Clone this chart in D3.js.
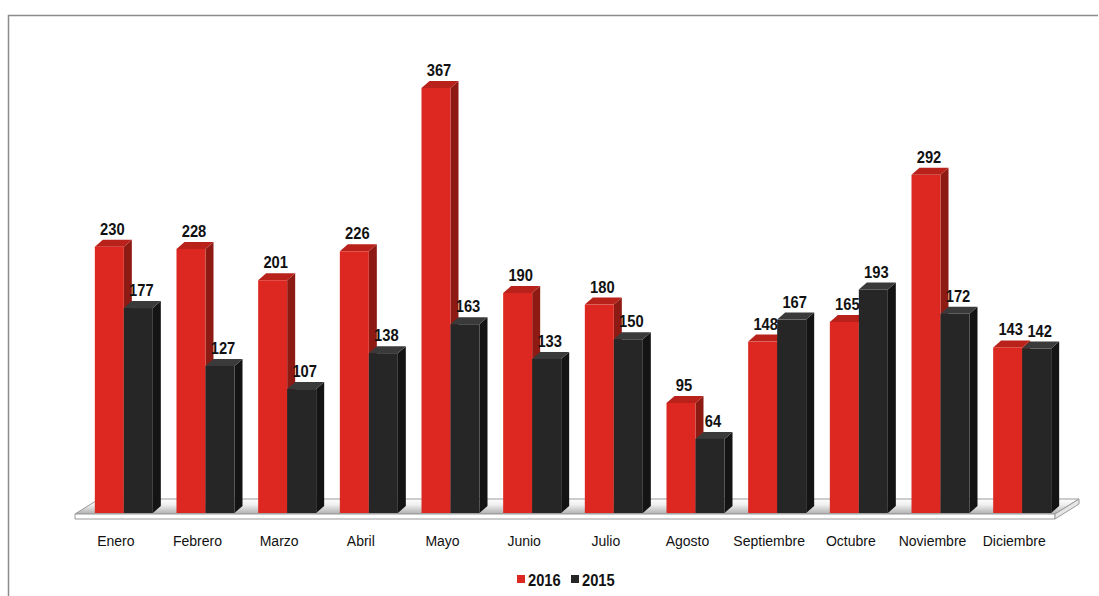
<html>
    <head>
        <title>Meses 2016 vs 2015</title>
        <style>
            body { margin: 0; background: #fff; }
            text { font-family: "Liberation Sans", Arial, sans-serif; }
        </style>
    </head>
    <body>
        <div id="graph"></div>

        <script src="https://cdn.jsdelivr.net/npm/d3@7"></script>
        <script>
            // values
            var months = ["Enero", "Febrero", "Marzo", "Abril", "Mayo", "Junio", "Julio",
                          "Agosto", "Septiembre", "Octubre", "Noviembre", "Diciembre"];
            var values2016 = [230, 228, 201, 226, 367, 190, 180, 95, 148, 165, 292, 143];
            var values2015 = [177, 127, 107, 138, 163, 133, 150, 64, 167, 193, 172, 142];
            var seriesNames = ["2016", "2015"];

            var W = 1099, H = 596;
            var baseY = 513;
            var depthX = 8, depthY = 7;   // little 3d offset of the bars
            var barW = 29;
            var narrow = 0.92;            // squeeze for the bold number labels

            var colors = [
                { front: "#dc2820", side: "#8e1a14", top: "#b8221b" },
                { front: "#262626", side: "#141414", top: "#3a3a3a" }
            ];

            var svg = d3.select("#graph").append("svg")
                .attr("width", W)
                .attr("height", H);

            var defs = svg.append("defs");
            var floorGrad = defs.append("linearGradient")
                .attr("id", "floorGrad")
                .attr("x1", 0).attr("y1", 0).attr("x2", 0).attr("y2", 1);
            floorGrad.append("stop").attr("offset", "0%").attr("stop-color", "#ffffff");
            floorGrad.append("stop").attr("offset", "40%").attr("stop-color", "#eeeeee");
            floorGrad.append("stop").attr("offset", "100%").attr("stop-color", "#b0b0b0");

            // frame (only top and left edges show in the picture)
            svg.append("path")
                .attr("d", "M8.5," + H + " L8.5,15.5 L" + (W - 1) + ",15.5")
                .attr("fill", "none")
                .attr("stroke", "#8c8c8c")
                .attr("stroke-width", 1.5);

            var x = d3.scaleBand()
                .domain(months)
                .range([83, 1063])
                .padding(0);

            var y = d3.scaleLinear()
                .domain([0, 400])
                .range([baseY, baseY - 400 * 1.158]);

            // floor slab
            var fl = 75, fr = 1055, fdx = 24, fdy = 15;
            var floor = svg.append("g").attr("class", "floor");
            floor.append("path")
                .attr("d", "M" + fl + "," + (baseY + 1) + " L" + fr + "," + (baseY + 1) + " L" + (fr + fdx) + "," + (baseY + 1 - fdy) +
                           " L" + (fl + fdx) + "," + (baseY + 1 - fdy) + "Z")
                .attr("fill", "url(#floorGrad)")
                .attr("stroke", "#9a9a9a")
                .attr("stroke-width", 1);
            floor.append("path")
                .attr("d", "M" + fl + "," + (baseY + 1) + " L" + fr + "," + (baseY + 1) + " L" + fr + "," + (baseY + 6) +
                           " L" + fl + "," + (baseY + 6) + "Z")
                .attr("fill", "#ffffff")
                .attr("stroke", "#9a9a9a")
                .attr("stroke-width", 1);
            floor.append("path")
                .attr("d", "M" + fr + "," + (baseY + 1) + " L" + (fr + fdx) + "," + (baseY + 1 - fdy) + " L" + (fr + fdx) + "," + (baseY - fdy + 6) +
                           " L" + fr + "," + (baseY + 6) + "Z")
                .attr("fill", "#e6e6e6")
                .attr("stroke", "#9a9a9a")
                .attr("stroke-width", 1);

            var rows = months.map(function(m, i) {
                return [
                    { month: m, s: 0, value: values2016[i] },
                    { month: m, s: 1, value: values2015[i] }
                ];
            });

            var groups = svg.selectAll("g.month")
                .data(rows)
                .enter()
                .append("g")
                .attr("class", "month");

            var bars = groups.selectAll("g.bar")
                .data(function(d) { return d; })
                .enter()
                .append("g")
                .attr("class", "bar");

            function bx(d) {
                return x(d.month) + x.bandwidth() / 2 - barW + d.s * barW;
            }

            // side face
            bars.append("path")
                .attr("d", function(d) {
                    var x0 = bx(d) + barW, yt = y(d.value);
                    return "M" + x0 + "," + yt + " L" + (x0 + depthX) + "," + (yt - depthY) +
                           " L" + (x0 + depthX) + "," + (baseY - depthY) + " L" + x0 + "," + baseY + "Z";
                })
                .attr("fill", function(d) { return colors[d.s].side; });

            // top face
            bars.append("path")
                .attr("d", function(d) {
                    var x0 = bx(d), yt = y(d.value);
                    return "M" + x0 + "," + yt + " L" + (x0 + depthX) + "," + (yt - depthY) +
                           " L" + (x0 + barW + depthX) + "," + (yt - depthY) + " L" + (x0 + barW) + "," + yt + "Z";
                })
                .attr("fill", function(d) { return colors[d.s].top; });

            // front face
            bars.append("rect")
                .attr("x", bx)
                .attr("y", function(d) { return y(d.value); })
                .attr("width", barW)
                .attr("height", function(d) { return baseY - y(d.value); })
                .attr("fill", function(d) { return colors[d.s].front; });

            // value labels
            bars.append("text")
                .attr("transform", function(d) {
                    return "translate(" + (bx(d) + barW / 2 + 3) + "," + (y(d.value) - 12) + ") scale(" + narrow + ",1)";
                })
                .attr("text-anchor", "middle")
                .style("font-size", "16px")
                .style("font-weight", "bold")
                .attr("fill", "#111")
                .text(function(d) { return d.value; });

            // month labels
            svg.selectAll("text.cat")
                .data(months)
                .enter()
                .append("text")
                .attr("class", "cat")
                .attr("x", function(m) { return x(m) + x.bandwidth() / 2 - 8; })
                .attr("y", 546)
                .attr("text-anchor", "middle")
                .style("font-size", "14px")
                .attr("fill", "#111")
                .text(function(m) { return m; });

            // legend
            var legend = svg.append("g").attr("class", "legend");
            var legendX = [517, 571];
            seriesNames.forEach(function(name, i) {
                legend.append("rect")
                    .attr("x", legendX[i])
                    .attr("y", 575)
                    .attr("width", 8)
                    .attr("height", 8)
                    .attr("fill", colors[i].front);
                legend.append("text")
                    .attr("transform", "translate(" + (legendX[i] + 11) + ",586) scale(" + narrow + ",1)")
                    .style("font-size", "16px")
                    .style("font-weight", "bold")
                    .attr("fill", "#111")
                    .text(name);
            });
        </script>
    </body>
</html>
